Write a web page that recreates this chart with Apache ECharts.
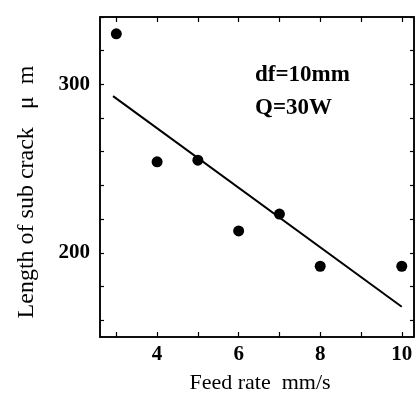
<!DOCTYPE html>
<html>
<head>
<meta charset="utf-8">
<script src="https://cdn.jsdelivr.net/npm/echarts@6/dist/echarts.min.js"></script>
<style>html,body{margin:0;padding:0;background:#fff}#c{width:416px;height:395px}</style>
</head>
<body>
<div id="c"></div>
<script>
// Data
var feedRate = [3, 4, 5, 6, 7, 8, 10];
var crackLength = [330, 254, 255, 213, 223, 192, 192];
var fitX = [2.92, 10];
var fitY = [293, 168];
var xTickLabels = [4, 6, 8, 10];
var xTicks = [3, 4, 5, 6, 7, 8, 9, 10];
var yTickLabels = [200, 300];
var yTicks = [160, 180, 200, 220, 240, 260, 280, 300, 320, 340];
var xTitle = 'Feed rate  mm/s';
var yTitle = 'Length of sub crack   \u03bc  m';
var notes = ['df=10mm', 'Q=30W'];

var serif = '"Liberation Serif", "DejaVu Serif", serif';
var chart = echarts.init(document.getElementById('c'));
var tick = {show: true, inside: true, length: 5, lineStyle: {color: '#000', width: 1.2}};
chart.setOption({
  animation: false,
  backgroundColor: '#fff',
  grid: {left: 100, right: 2, top: 17, bottom: 58, show: true, borderColor: '#000', borderWidth: 1.5, backgroundColor: 'transparent'},
  xAxis: [{
    type: 'value', min: 2.6, max: 10.3,
    axisLine: {show: true, lineStyle: {color: '#000', width: 1.5}},
    axisTick: Object.assign({customValues: xTicks}, tick),
    axisLabel: {customValues: xTickLabels, margin: 7, color: '#000', fontFamily: serif, fontSize: 21, fontWeight: 'bold'},
    splitLine: {show: false}
  }, {
    type: 'value', min: 2.6, max: 10.3, position: 'top',
    axisLine: {show: true, lineStyle: {color: '#000', width: 1.5}},
    axisTick: Object.assign({customValues: xTicks}, tick),
    axisLabel: {show: false}, splitLine: {show: false}
  }],
  yAxis: [{
    type: 'value', min: 150, max: 340,
    axisLine: {show: true, lineStyle: {color: '#000', width: 1.5}},
    axisTick: Object.assign({customValues: yTicks}, tick, {length: 4}),
    axisLabel: {customValues: yTickLabels, margin: 10, color: '#000', fontFamily: serif, fontSize: 21, fontWeight: 'bold'},
    splitLine: {show: false}
  }, {
    type: 'value', min: 150, max: 340, position: 'right',
    axisLine: {show: true, lineStyle: {color: '#000', width: 1.5}},
    axisTick: Object.assign({customValues: yTicks}, tick, {length: 4}),
    axisLabel: {show: false}, splitLine: {show: false}
  }],
  series: [{
    type: 'scatter',
    data: feedRate.map(function (x, i) { return [x, crackLength[i]]; }),
    symbol: 'circle', symbolSize: 11,
    itemStyle: {color: '#000', opacity: 1}
  }, {
    type: 'line',
    data: fitX.map(function (x, i) { return [x, fitY[i]]; }),
    showSymbol: false, symbol: 'none',
    lineStyle: {color: '#000', width: 2}
  }],
  graphic: [
    {type: 'text', x: 27, y: 192, rotation: Math.PI / 2,
     style: {text: yTitle, fill: '#000', font: '24px ' + serif, align: 'center', verticalAlign: 'middle'}},
    {type: 'text', x: 260, y: 383,
     style: {text: xTitle, fill: '#000', font: '22px ' + serif, align: 'center', verticalAlign: 'middle'}},
    {type: 'text', x: 255, y: 75,
     style: {text: notes[0], fill: '#000', font: 'bold 23px ' + serif, align: 'left', verticalAlign: 'middle'}},
    {type: 'text', x: 255, y: 108,
     style: {text: notes[1], fill: '#000', font: 'bold 23px ' + serif, align: 'left', verticalAlign: 'middle'}}
  ]
});
</script>
</body>
</html>
